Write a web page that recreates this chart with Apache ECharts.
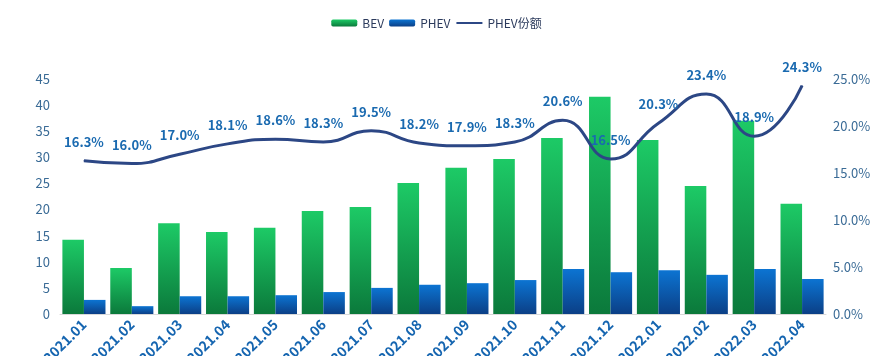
<!DOCTYPE html>
<html><head><meta charset="utf-8">
<script src="https://cdn.jsdelivr.net/npm/echarts@6/dist/echarts.min.js"></script>
<style>html,body{margin:0;padding:0;background:#fff}#c{width:873px;height:356px}</style>
</head><body><div id="c"></div>
<script>
const categories = ['2021.01','2021.02','2021.03','2021.04','2021.05','2021.06','2021.07','2021.08','2021.09','2021.10','2021.11','2021.12','2022.01','2022.02','2022.03','2022.04'];
const bev = [14.2, 8.8, 17.4, 15.7, 16.5, 19.7, 20.5, 25.1, 28.0, 29.7, 33.7, 41.6, 33.3, 24.5, 37.0, 21.1];
const phev = [2.7, 1.5, 3.4, 3.4, 3.6, 4.2, 5.0, 5.6, 5.9, 6.5, 8.6, 8.0, 8.4, 7.5, 8.6, 6.7];
const phevShare = [0.163, 0.160, 0.170, 0.181, 0.186, 0.183, 0.195, 0.182, 0.179, 0.183, 0.206, 0.165, 0.203, 0.234, 0.189, 0.243];

const chart = echarts.init(document.getElementById('c'));
const grad = (a, b) => new echarts.graphic.LinearGradient(0, 0, 0, 1, [{offset: 0, color: a}, {offset: 1, color: b}]);
const font = 'Microsoft YaHei, "Noto Sans CJK SC", "Open Sans", sans-serif';
chart.setOption({
  animation: false,
  textStyle: {fontFamily: font},
  legend: {
    top: 12, left: 'center', itemWidth: 26, itemHeight: 7, itemGap: 5,
    textStyle: {color: '#2b3a5c', fontSize: 12, fontFamily: font},
    data: ['BEV', 'PHEV', {name: 'PHEV份额', itemStyle: {opacity: 0}}]
  },
  grid: {left: 60, right: 47, top: 79, bottom: 42, containLabel: false, outerBoundsMode: 'none'},
  xAxis: {
    type: 'category', data: categories,
    axisLine: {lineStyle: {color: '#d9d9d9'}},
    axisTick: {show: false},
    axisLabel: {rotate: 45, color: '#1565b0', fontWeight: 'bold', fontSize: 14, margin: 8, interval: 0}
  },
  yAxis: [
    {type: 'value', min: 0, max: 45, interval: 5,
     splitLine: {show: false}, axisLine: {show: false}, axisTick: {show: false},
     axisLabel: {color: '#3a6b96', fontSize: 13, margin: 10}},
    {type: 'value', min: 0, max: 0.25, interval: 0.05,
     splitLine: {show: false}, axisLine: {show: false}, axisTick: {show: false},
     axisLabel: {color: '#3a6b96', fontSize: 13, margin: 7, formatter: v => (v * 100).toFixed(1) + '%'}}
  ],
  series: [
    {name: 'BEV', type: 'bar', data: bev, barGap: 0, barCategoryGap: '10%',
     itemStyle: {color: grad('#1dca66', '#0b793b')}},
    {name: 'PHEV', type: 'bar', data: phev,
     itemStyle: {color: grad('#0c74d2', '#0b3f86')}},
    {name: 'PHEV份额', type: 'line', yAxisIndex: 1, data: phevShare, smooth: true,
     showSymbol: true, symbol: 'circle', symbolSize: 1,
     lineStyle: {color: '#2c4785', width: 3},
     itemStyle: {color: '#2c4785'},
     label: {show: true, position: 'top', distance: 12, color: '#1a6ab0', fontWeight: 'bold', fontSize: 13,
       formatter: p => (p.value * 100).toFixed(1) + '%'}}
  ]
});
</script></body></html>
